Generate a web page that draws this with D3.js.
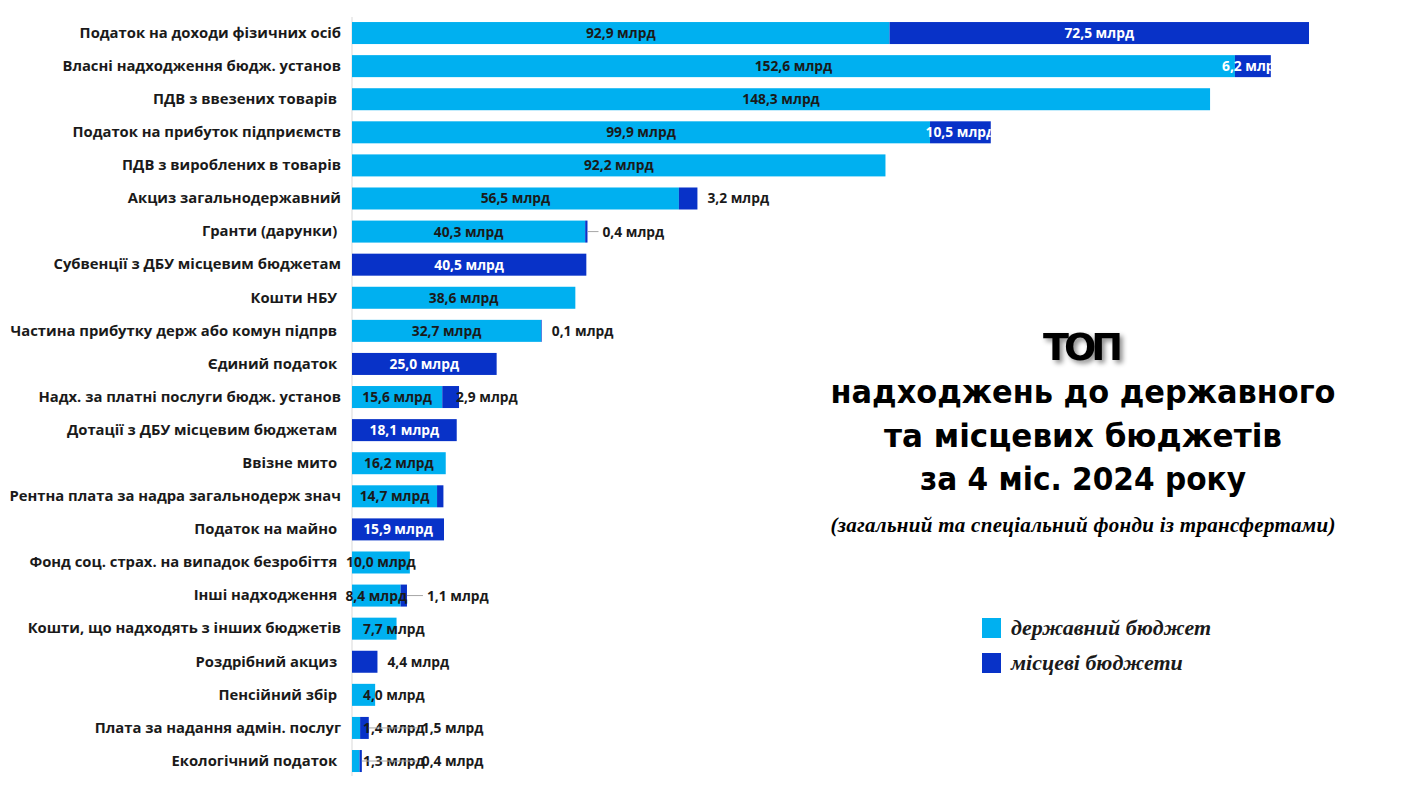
<!DOCTYPE html>
<html>
<head>
<meta charset="utf-8">
<script src="https://cdn.jsdelivr.net/npm/d3@7"></script>
<style>
  body { margin: 0; background: #fff; }
  svg { display: block; }
  text { white-space: pre; }
</style>
</head>
<body>
<div class="canvas"></div>
<script>
const categories = [
  'Податок на доходи фізичних осіб',
  'Власні надходження бюдж. установ',
  'ПДВ з ввезених товарів ',
  'Податок на прибуток підприємств',
  'ПДВ з вироблених в товарів',
  'Акциз загальнодержавний',
  'Гранти (дарунки) ',
  'Субвенції з ДБУ місцевим бюджетам',
  'Кошти НБУ ',
  'Частина прибутку держ або комун підпрв ',
  'Єдиний податок ',
  'Надх. за платні послуги бюдж. установ',
  'Дотації з ДБУ місцевим бюджетам ',
  'Ввізне мито ',
  'Рентна плата за надра загальнодерж знач',
  'Податок на майно ',
  'Фонд соц. страх. на випадок безробіття ',
  'Інші надходження ',
  'Кошти, що надходять з інших бюджетів',
  'Роздрібний акциз ',
  'Пенсійний збір ',
  'Плата за надання адмін. послуг',
  'Екологічний податок '
];
// державний бюджет, млрд грн
const stateValues = [92.9, 152.6, 148.3, 99.9, 92.2, 56.5, 40.3, 0, 38.6, 32.7, 0, 15.6, 0, 16.2, 14.7, 0, 10.0, 8.4, 7.7, 0, 4.0, 1.4, 1.3];
// місцеві бюджети, млрд грн
const localValues = [72.5, 6.2, 0, 10.5, 0, 3.2, 0.4, 40.5, 0, 0.1, 25.0, 2.9, 18.1, 0, 1.1, 15.9, 0, 1.1, 0, 4.4, 0, 1.5, 0.4];
// local parts drawn without a data label
const hiddenLocalLabels = ['Рентна плата за надра загальнодерж знач'];

const seriesNames = ['державний бюджет', 'місцеві бюджети'];
const colors = ['#00b0f0', '#0832c8'];

// gap between bar end and an outside label (px), where it differs from the default
const outsideGap = {
  'Гранти (дарунки) ': 15,
  'Надх. за платні послуги бюдж. установ': -3,
  'Інші надходження ': 20
};

const W = 1410, H = 793;
const svg = d3.select('.canvas')
  .append('svg')
  .attr('width', W)
  .attr('height', H);

const x = d3.scaleLinear()
  .domain([0, 170])
  .range([352, 352 + 170 * 5.786]);

const y = d3.scaleBand()
  .domain(categories)
  .range([16.5, 16.5 + 23 * 33.09])
  .paddingInner(0.335)
  .paddingOuter(0.1675);

const fmt = v => d3.format('.1f')(v).replace('.', ',') + ' млрд';
const labelFont = '"Open Sans", sans-serif';

const rows = categories.map((c, i) => ({ cat: c, s: stateValues[i], l: localValues[i] }));

// axis line
svg.append('line')
  .attr('x1', x(0)).attr('x2', x(0))
  .attr('y1', 17).attr('y2', 776)
  .attr('stroke', '#d9d9d9').attr('stroke-width', 1);

// category labels
const yAxis = svg.append('g')
  .attr('transform', `translate(${x(0) - 4},0)`)
  .call(d3.axisLeft(y).tickSize(0).tickPadding(7));
yAxis.select('.domain').remove();
yAxis.selectAll('text')
  .attr('font-family', labelFont)
  .attr('font-weight', 700)
  .attr('font-size', 14.8)
  .attr('fill', '#1a1a1a');

const bars = svg.append('g');
const labels = svg.append('g');

rows.forEach(r => {
  const y0 = y(r.cat), bh = y.bandwidth(), cy = y0 + bh / 2;
  const xs0 = x(0), xs1 = x(r.s), xl1 = x(r.s + r.l);
  if (r.s > 0) {
    bars.append('rect').attr('x', xs0).attr('y', y0)
      .attr('width', xs1 - xs0).attr('height', bh).attr('fill', colors[0]);
  }
  if (r.l > 0) {
    bars.append('rect').attr('x', xs1).attr('y', y0)
      .attr('width', xl1 - xs1).attr('height', bh).attr('fill', colors[1]);
  }

  let stateLabelEnd = null;
  if (r.s > 0) {
    const w = xs1 - xs0;
    const t = labels.append('text')
      .attr('y', cy).attr('dy', '0.36em')
      .attr('font-family', labelFont).attr('font-weight', 700).attr('font-size', 13.8)
      .attr('fill', '#1a1a1a')
      .text(fmt(r.s));
    const tw = t.node().getComputedTextLength();
    if (w >= 45) {
      t.attr('x', (xs0 + xs1) / 2).attr('text-anchor', 'middle');
    } else {
      t.attr('x', xs0 + 11);
      stateLabelEnd = xs0 + 11 + tw;
    }
  }

  if (r.l > 0 && !hiddenLocalLabels.includes(r.cat)) {
    const w = xl1 - xs1;
    const t = labels.append('text')
      .attr('y', cy).attr('dy', '0.36em')
      .attr('font-family', labelFont).attr('font-weight', 700).attr('font-size', 13.8)
      .text(fmt(r.l));
    if (w >= 30) {
      const id = 'clip' + categories.indexOf(r.cat);
      svg.append('clipPath').attr('id', id)
        .append('rect').attr('x', xs0).attr('y', y0).attr('width', xl1 - xs0).attr('height', bh);
      t.attr('x', (xs1 + xl1) / 2).attr('text-anchor', 'middle')
        .attr('fill', '#fff').attr('clip-path', `url(#${id})`);
    } else {
      let lx = xl1 + (outsideGap[r.cat] !== undefined ? outsideGap[r.cat] : 10);
      if (stateLabelEnd !== null) lx = stateLabelEnd - 3;
      t.attr('x', lx).attr('fill', '#1a1a1a');
      if (lx - xl1 > 12) {
        labels.append('line')
          .attr('x1', xl1).attr('x2', lx - 4)
          .attr('y1', cy).attr('y2', cy)
          .attr('stroke', '#a6a6a6').attr('stroke-width', 1);
      }
    }
  }
});

// title block
const cx = 1083;
const defs = svg.append('defs');
const f = defs.append('filter').attr('id', 'shadow').attr('x', '-20%').attr('y', '-20%').attr('width', '150%').attr('height', '150%');
f.append('feDropShadow').attr('dx', 3).attr('dy', 3).attr('stdDeviation', 2.5).attr('flood-color', '#000').attr('flood-opacity', 0.45);

svg.append('text')
  .attr('x', cx).attr('y', 360).attr('text-anchor', 'middle')
  .attr('font-family', '"DejaVu Sans", sans-serif').attr('font-weight', 700).attr('font-size', 38)
  .attr('textLength', 80)
  .attr('filter', 'url(#shadow)')
  .text('ТОП');

const titleLines = ['надходжень до державного', 'та місцевих бюджетів', 'за 4 міс. 2024 року'];
const titleWidths = [505, 398, 326];
titleLines.forEach((s, i) => {
  svg.append('text')
    .attr('x', cx).attr('y', 403 + i * 43.5).attr('text-anchor', 'middle')
    .attr('font-family', '"DejaVu Sans", sans-serif').attr('font-weight', 700).attr('font-size', 32)
    .attr('textLength', titleWidths[i])
    .attr('lengthAdjust', 'spacingAndGlyphs')
    .text(s);
});

svg.append('text')
  .attr('x', cx).attr('y', 532).attr('text-anchor', 'middle')
  .attr('font-family', '"Liberation Serif", serif').attr('font-weight', 700).attr('font-style', 'italic')
  .attr('font-size', 21)
  .attr('textLength', 505)
  .text('(загальний та спеціальний фонди із трансфертами)');

// legend
const legend = svg.append('g').attr('transform', 'translate(982,618)');
seriesNames.forEach((n, i) => {
  const g = legend.append('g').attr('transform', `translate(0,${i * 35})`);
  g.append('rect').attr('width', 19).attr('height', 20).attr('fill', colors[i]);
  g.append('text').attr('x', 29).attr('y', 17)
    .attr('font-family', '"Liberation Serif", serif').attr('font-style', 'italic').attr('font-weight', 700)
    .attr('font-size', 22).attr('fill', '#1a1a1a')
    .text(n);
});
</script>
</body>
</html>
